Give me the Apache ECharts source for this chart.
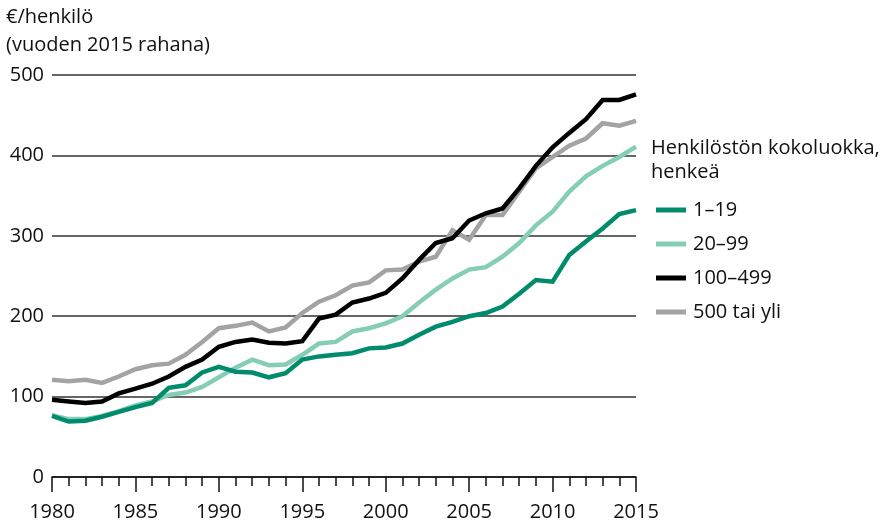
<!DOCTYPE html>
<html>
<head>
    <meta charset="utf-8">
    <script src="https://cdn.jsdelivr.net/npm/echarts@6/dist/echarts.min.js"></script>
    <style>
        html, body { margin: 0; padding: 0; background: #fff; }
    </style>
</head>
<body>
<div id="main" style="width: 888px;height:522px;"></div>

<script type="text/javascript">
    // vuodet ja sarjat (€/henkilö, vuoden 2015 rahana)
    var years = [1980, 1981, 1982, 1983, 1984, 1985, 1986, 1987, 1988, 1989,
        1990, 1991, 1992, 1993, 1994, 1995, 1996, 1997, 1998, 1999,
        2000, 2001, 2002, 2003, 2004, 2005, 2006, 2007, 2008, 2009,
        2010, 2011, 2012, 2013, 2014, 2015];
    var size1_19 = [76, 69, 70, 75, 81, 87, 92, 111, 114, 130, 137, 131,
        130, 124, 129, 146, 150, 152, 154, 160, 161, 166, 177, 187,
        193, 200, 204, 212, 228, 245, 243, 276, 293, 309, 327, 332];
    var size20_99 = [77, 72, 72, 76, 82, 89, 94, 102, 105, 112, 124, 136,
        146, 139, 140, 152, 166, 168, 181, 185, 191, 200, 217, 233,
        247, 258, 261, 274, 291, 313, 330, 355, 374, 387, 398, 411];
    var size100_499 = [96, 94, 92, 94, 104, 110, 116, 125, 137, 146, 162, 168,
        171, 167, 166, 169, 197, 202, 217, 222, 229, 247, 270, 291,
        297, 319, 328, 334, 359, 387, 410, 428, 445, 469, 469, 476];
    var size500 = [121, 119, 121, 117, 125, 134, 139, 141, 152, 168, 185, 188,
        192, 181, 186, 204, 218, 226, 238, 242, 257, 258, 268, 274,
        307, 295, 326, 326, 355, 384, 398, 412, 421, 440, 437, 443];
    var yTicks = [0, 100, 200, 300, 400, 500];

    var names = ['1\u201319', '20\u201399', '100\u2013499', '500 tai yli'];
    var colors = ['#008c6c', '#86cdb7', '#000000', '#a3a3a3'];
    var dataSets = [size1_19, size20_99, size100_499, size500];
    var zOrder = [5, 4, 3, 2];

    var font = 'Open Sans';
    var myChart = echarts.init(document.getElementById('main'));

    var series = names.map(function (n, k) {
        return {
            name: n,
            type: 'line',
            symbol: 'none',
            z: zOrder[k],
            lineStyle: { color: colors[k], width: 4.5, join: 'miter' },
            itemStyle: { color: colors[k] },
            data: years.map(function (y, i) { return [y, dataSets[k][i]]; })
        };
    });

    myChart.setOption({
        animation: false,
        textStyle: { fontFamily: font },
        grid: { left: 52, right: 252, top: 75, bottom: 45 },
        graphic: [
            { type: 'text', left: 6, top: 7, style: { text: '\u20ac/henkil\u00f6', font: '20px "Open Sans"', fill: '#111' } },
            { type: 'text', left: 6, top: 35, style: { text: '(vuoden 2015 rahana)', font: '20px "Open Sans"', fill: '#111' } },
            { type: 'text', left: 651, top: 136, style: { text: 'Henkil\u00f6st\u00f6n kokoluokka,\nhenke\u00e4', font: '20px "Open Sans"', lineHeight: 24, fill: '#111' } }
        ],
        legend: {
            orient: 'vertical',
            left: 651,
            top: 195,
            itemGap: 14,
            itemWidth: 30,
            itemHeight: 5,
            icon: 'rect',
            textStyle: { fontSize: 20, color: '#111', fontFamily: font, padding: [0, 0, 0, 2] },
            data: names
        },
        xAxis: {
            type: 'value',
            min: 1980,
            max: 2015,
            interval: 5,
            axisLine: { onZero: false, lineStyle: { color: '#111', width: 1.5 } },
            axisTick: { show: true, length: 15, lineStyle: { color: '#111', width: 1.5 } },
            minorTick: { show: true, splitNumber: 5, length: 9, lineStyle: { color: '#111', width: 1.5 } },
            splitLine: { show: false },
            axisLabel: { fontSize: 20, color: '#111', margin: 25, formatter: function (v) { return String(v); } }
        },
        yAxis: {
            type: 'value',
            min: yTicks[0],
            max: yTicks[yTicks.length - 1],
            interval: 100,
            axisLine: { show: false },
            axisTick: { show: false },
            splitLine: { lineStyle: { color: '#333', width: 1.5 } },
            axisLabel: { fontSize: 20, color: '#111', margin: 8 }
        },
        series: series
    });
</script>
</body>
</html>
